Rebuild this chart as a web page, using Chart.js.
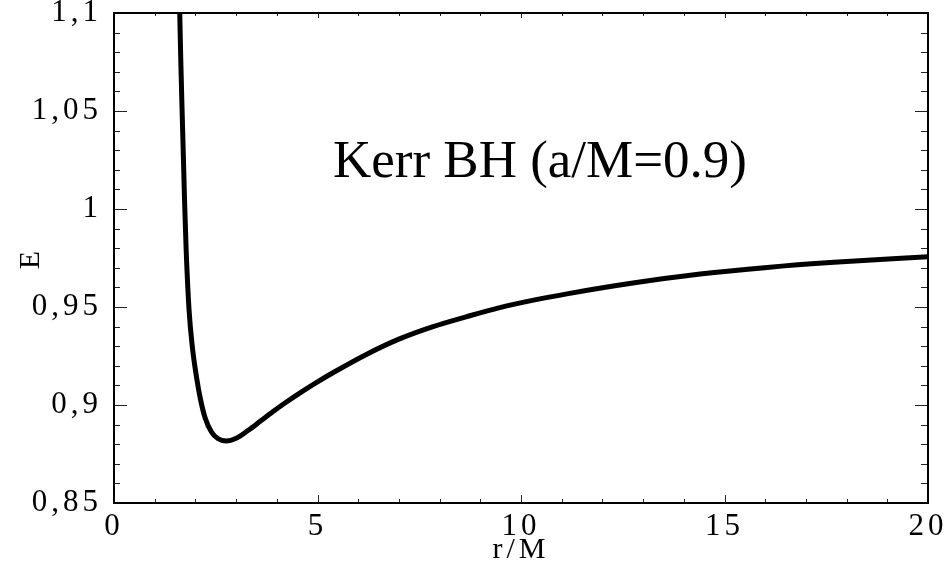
<!DOCTYPE html>
<html>
<head>
<meta charset="utf-8">
<script src="https://cdn.jsdelivr.net/npm/chart.js@4/dist/chart.umd.min.js"></script>
<style>
  html, body { margin: 0; padding: 0; background: #fff; }
  #wrap { width: 946px; height: 565px; }
</style>
</head>
<body>
<div id="wrap"><canvas id="chart" width="946" height="565"></canvas></div>
<script>
// Datos: energia E frente a r/M
var rValues = [1.59, 1.615, 1.64, 1.672, 1.706, 1.733, 1.773, 1.844, 1.923, 2.033, 2.124, 2.242, 2.395, 2.55, 2.76,
               3.0, 3.3, 3.6, 3.9, 4.2, 4.6, 5.0, 5.4, 6.2, 7.0, 7.84, 8.67, 9.48, 10.31, 11.13, 12.75, 14.4, 16.05, 17.69, 20.0];
var eValues = [1.13, 1.1, 1.0765, 1.051, 1.0255, 1.0046, 0.9791, 0.9485, 0.93, 0.9135, 0.903, 0.8932, 0.8862, 0.8829, 0.8816,
               0.883, 0.8871, 0.8918, 0.8965, 0.901, 0.9066, 0.9118, 0.9167, 0.9258, 0.9336, 0.94, 0.9451, 0.9497, 0.9535, 0.9567, 0.9622, 0.9668, 0.9702, 0.9728, 0.9757];

var xTickLabels = ['0', '5', '10', '15', '20'];
var yTickLabels = ['0,85', '0,9', '0,95', '1', '1,05', '1,1'];
var xTitle = 'r/M';
var yTitle = 'E';
var noteText = 'Kerr BH (a/M=0.9)';
var notePos = { x: 5.38, y: 1.0165 }; // posicion del texto en coordenadas de datos

var points = rValues.map(function(r, i) { return { x: r, y: eValues[i] }; });

// Marco y marcas hacia dentro en los cuatro lados, mas el texto
var framePlugin = {
  id: 'frame',
  beforeUpdate: function(chart) { chart.ctx.letterSpacing = '4px'; },
  afterDraw: function(chart) {
    var ctx = chart.ctx, a = chart.chartArea;
    var xs = chart.scales.x, ys = chart.scales.y;
    ctx.save();
    ctx.letterSpacing = '0px';
    ctx.strokeStyle = '#222';
    ctx.lineWidth = 1;
    ctx.beginPath();
    for (var v = 0; v <= 20; v++) {
      var px = Math.round(xs.getPixelForValue(v)) + 0.5;
      var major = v % 5 === 0;
      ctx.moveTo(px, a.bottom); ctx.lineTo(px, a.bottom - (major ? 8 : 4));
      ctx.moveTo(px, a.top); ctx.lineTo(px, a.top + (major ? 5 : 3));
    }
    for (var k = 0; k <= 25; k++) {
      var py = Math.round(ys.getPixelForValue(0.85 + k * 0.01)) + 0.5;
      var majorY = k % 5 === 0;
      ctx.moveTo(a.left, py); ctx.lineTo(a.left + (majorY ? 13 : 6), py);
      ctx.moveTo(a.right, py); ctx.lineTo(a.right - (majorY ? 13 : 7), py);
    }
    ctx.stroke();
    ctx.strokeStyle = '#000';
    ctx.lineWidth = 2;
    ctx.strokeRect(a.left, a.top, a.right - a.left, a.bottom - a.top);

    ctx.fillStyle = '#000';
    ctx.font = '53px "Liberation Serif"';
    ctx.textAlign = 'left';
    ctx.textBaseline = 'alphabetic';
    ctx.fillText(noteText, xs.getPixelForValue(notePos.x), ys.getPixelForValue(notePos.y));
    ctx.restore();
  }
};

var labelFont = { family: 'Liberation Serif', size: 31 };

var chart = new Chart(document.getElementById('chart'), {
  type: 'line',
  data: {
    datasets: [{
      data: points,
      borderColor: '#000',
      borderWidth: 5,
      pointRadius: 0,
      fill: false,
      cubicInterpolationMode: 'monotone'
    }]
  },
  options: {
    responsive: false,
    animation: false,
    devicePixelRatio: 1,
    layout: { padding: { top: 13, right: 18, left: 0, bottom: 0 } },
    plugins: { legend: { display: false }, tooltip: { enabled: false } },
    scales: {
      x: {
        type: 'linear', min: 0, max: 20,
        grid: { display: false },
        border: { display: false },
        ticks: {
          stepSize: 5, maxRotation: 0, padding: -3, color: '#000',
          font: labelFont,
          callback: function(v, i) { return xTickLabels[i]; }
        },
        title: { display: true, text: xTitle, color: '#000', padding: { top: 0, bottom: -3 },
                 font: { family: 'Liberation Serif', size: 30 } },
        afterFit: function(s) { s.height = 62; s.paddingLeft = 0; s.paddingRight = 0; }
      },
      y: {
        type: 'linear', min: 0.85, max: 1.1,
        grid: { display: false },
        border: { display: false },
        ticks: {
          stepSize: 0.05, padding: 4, color: '#000',
          font: labelFont,
          callback: function(v, i) { return yTickLabels[i]; }
        },
        title: { display: true, text: yTitle, color: '#000', padding: { top: 13, bottom: 0 },
                 font: { family: 'Liberation Serif', size: 30 } },
        afterFit: function(s) { s.width = 114; s.paddingTop = 0; s.paddingBottom = 0; }
      }
    }
  },
  plugins: [framePlugin]
});
</script>
</body>
</html>
